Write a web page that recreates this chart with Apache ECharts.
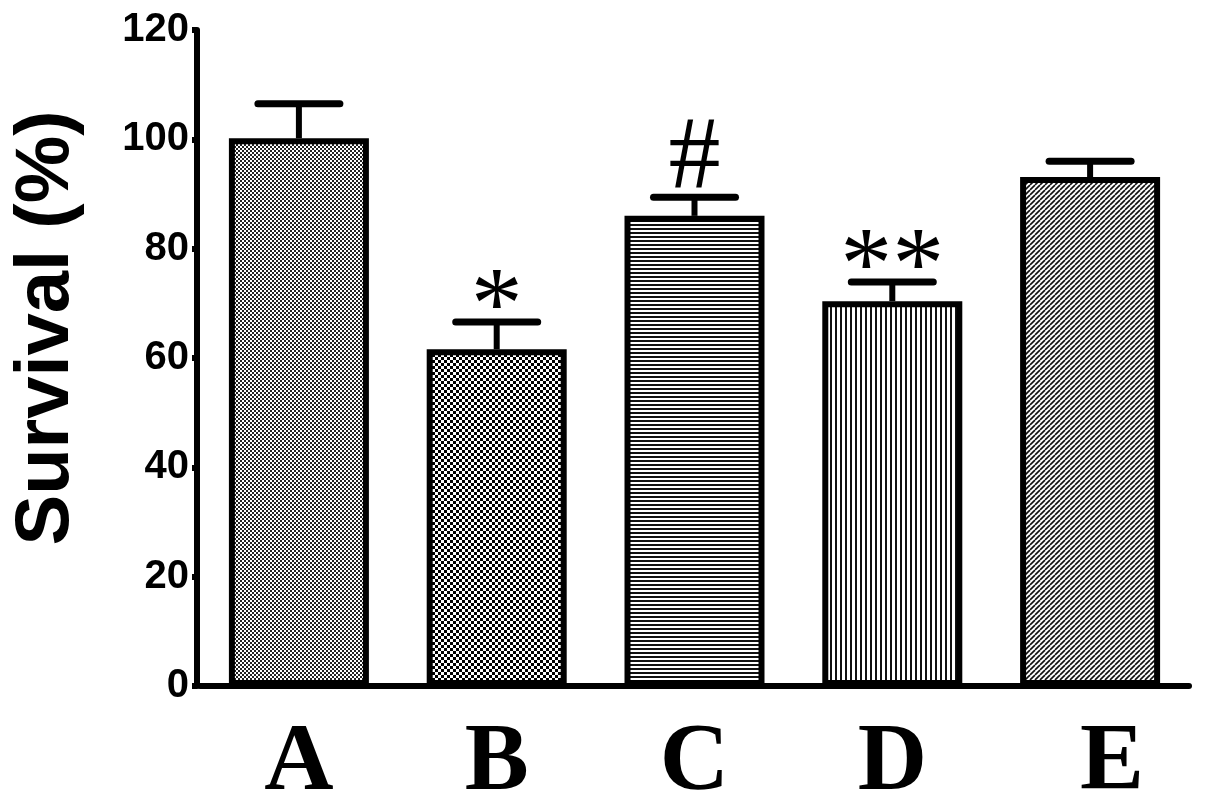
<!DOCTYPE html>
<html>
<head>
<meta charset="utf-8">
<script src="https://cdn.jsdelivr.net/npm/echarts@6/dist/echarts.min.js"></script>
<style>html,body{margin:0;padding:0;background:#fff}#c{width:1205px;height:809px}</style>
</head>
<body>
<div id="c"></div>
<script>
var categories = ['A', 'B', 'C', 'D', 'E'];
var survival = [100.2, 61.6, 86.0, 70.4, 93.1];
var errors = [6.3, 5.0, 3.4, 3.5, 2.9];
var marks = ['', '*', '#', '**', ''];
var yTicks = [0, 20, 40, 60, 80, 100, 120];

function makePattern(kind) {
  var c = document.createElement('canvas');
  var ctx = c.getContext('2d');
  if (kind === 'fineChecker') {
    c.width = 4; c.height = 4;
    ctx.fillStyle = '#fff'; ctx.fillRect(0, 0, 4, 4);
    ctx.fillStyle = '#222'; ctx.fillRect(0, 0, 2, 2); ctx.fillRect(2, 2, 2, 2);
  } else if (kind === 'checker') {
    c.width = 6; c.height = 6;
    ctx.fillStyle = '#fff'; ctx.fillRect(0, 0, 6, 6);
    ctx.fillStyle = '#000'; ctx.fillRect(0, 0, 3, 3); ctx.fillRect(3, 3, 3, 3);
  } else if (kind === 'hlines') {
    c.width = 4; c.height = 4;
    ctx.fillStyle = '#fff'; ctx.fillRect(0, 0, 4, 4);
    ctx.fillStyle = '#111'; ctx.fillRect(0, 0, 4, 2);
  } else if (kind === 'vlines') {
    c.width = 5; c.height = 5;
    ctx.fillStyle = '#fff'; ctx.fillRect(0, 0, 5, 5);
    ctx.fillStyle = '#111'; ctx.fillRect(0, 0, 2, 5);
  } else {
    c.width = 5; c.height = 5;
    ctx.fillStyle = '#fff'; ctx.fillRect(0, 0, 5, 5);
    ctx.strokeStyle = '#111'; ctx.lineWidth = 1.6;
    for (var k = -5; k <= 10; k += 5) {
      ctx.beginPath(); ctx.moveTo(k, 5); ctx.lineTo(k + 5, 0); ctx.stroke();
    }
  }
  return { image: c, repeat: 'repeat' };
}
var patterns = [makePattern('fineChecker'), makePattern('checker'), makePattern('hlines'), makePattern('vlines'), makePattern('diag')];

var chart = echarts.init(document.getElementById('c'));
chart.setOption({
  backgroundColor: '#fff',
  animation: false,
  grid: { left: 200, right: 16, top: 30, bottom: 123, outerBoundsMode: 'none', containLabel: false },
  xAxis: {
    type: 'category',
    data: categories,
    axisLine: { lineStyle: { color: '#000', width: 6, cap: 'round' } },
    axisTick: { show: false },
    axisLabel: { interval: 0, hideOverlap: false, color: '#000', fontFamily: 'Liberation Serif', fontWeight: 'bold', fontSize: 96, margin: 30,
      formatter: function (v) { return v === 'E' ? '{e|' + v + '}' : v; },
      rich: { e: { color: '#000', fontFamily: 'Liberation Serif', fontWeight: 'bold', fontSize: 96, padding: [0, 0, 0, 44] } } }
  },
  yAxis: {
    type: 'value', min: 0, max: 120, interval: 20, offset: 3,
    name: 'Survival (%)', nameLocation: 'middle', nameGap: 112,
    nameTextStyle: { color: '#000', fontFamily: 'Liberation Sans', fontWeight: 'bold', fontSize: 76, padding: [0, 0, 0, 60] },
    axisLine: { show: true, lineStyle: { color: '#000', width: 6, cap: 'round' } },
    axisTick: { show: true, length: 5, lineStyle: { color: '#000', width: 6 } },
    splitLine: { show: false },
    axisLabel: { color: '#000', fontFamily: 'Liberation Sans', fontWeight: 'bold', fontSize: 40, margin: 8,
      formatter: function (v) { return yTicks.indexOf(v) >= 0 ? String(v) : ''; } }
  },
  series: [{
    type: 'bar',
    barWidth: 140,
    z: 2,
    data: survival.map(function (v, i) {
      return { value: v, itemStyle: { color: patterns[i], borderColor: '#000', borderWidth: 6 } };
    })
  }, {
    type: 'custom',
    z: 3,
    data: survival.map(function (v, i) { return [i, v, errors[i]]; }),
    renderItem: function (params, api) {
      var i = api.value(0), v = api.value(1), e = api.value(2);
      var base = api.coord([i, v]);
      var top = api.coord([i, v + e]);
      var half = 41;
      var children = [
        { type: 'line', shape: { x1: base[0], y1: base[1], x2: top[0], y2: top[1] }, style: { stroke: '#000', lineWidth: 6 } },
        { type: 'line', shape: { x1: top[0] - half, y1: top[1], x2: top[0] + half, y2: top[1] }, style: { stroke: '#000', lineWidth: 7, lineCap: 'round' } }
      ];
      var m = marks[i];
      if (m) {
        var off = m === '#' ? 38 : 11;
        children.push({ type: 'text', style: { text: m, x: top[0], y: top[1] - off, textAlign: 'center', textVerticalAlign: 'middle', fill: '#000', font: '104px "Liberation Serif"' } });
      }
      return { type: 'group', children: children };
    }
  }]
});
</script>
</body>
</html>
